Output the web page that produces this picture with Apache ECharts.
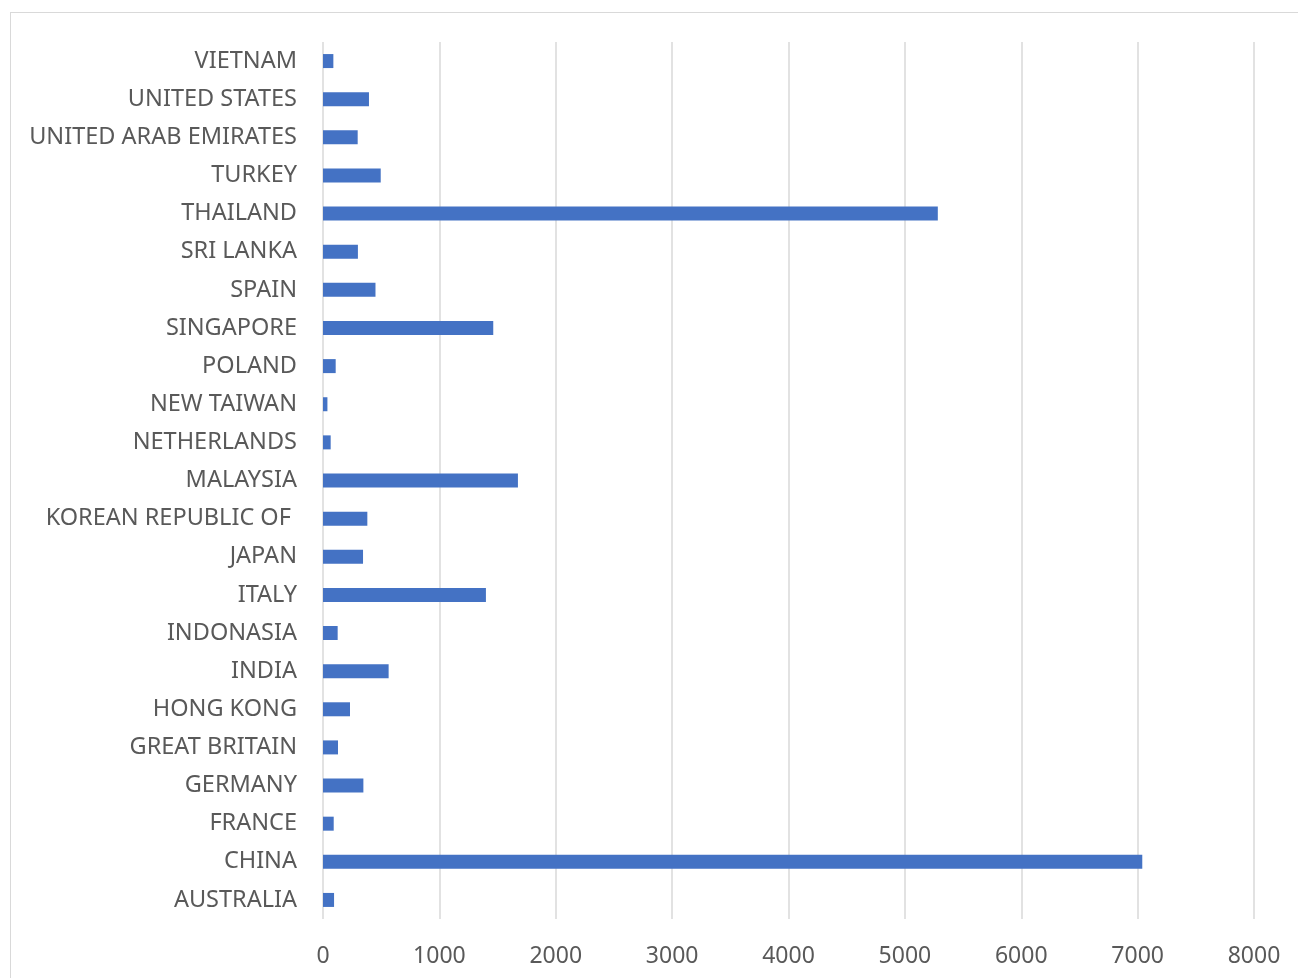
<!DOCTYPE html>
<html>
<head>
<meta charset="utf-8">
<script src="https://cdn.jsdelivr.net/npm/echarts@6/dist/echarts.min.js"></script>
<style>
  html, body { margin: 0; padding: 0; background: #fff; overflow: hidden; }
  .frame {
    position: absolute; left: 10px; top: 12px;
    width: 1400px; height: 1100px;
    border: 1px solid #d9d9d9; box-sizing: border-box;
  }
  #chart { position: absolute; left: 0; top: 0; width: 1298px; height: 978px; }
</style>
</head>
<body>
<div class="frame"></div>
<div id="chart"></div>
<script>
// bottom to top, as ECharts draws a y category axis
const countries = [
  "AUSTRALIA", "CHINA", "FRANCE", "GERMANY", "GREAT BRITAIN", "HONG KONG",
  "INDIA", "INDONASIA", "ITALY", "JAPAN", "KOREAN REPUBLIC OF ", "MALAYSIA",
  "NETHERLANDS", "NEW TAIWAN", "POLAND", "SINGAPORE", "SPAIN", "SRI LANKA",
  "THAILAND", "TURKEY", "UNITED ARAB EMIRATES", "UNITED STATES", "VIETNAM"
];
const counts = [
  95, 7040, 92, 347, 129, 232,
  564, 126, 1400, 344, 381, 1675,
  66, 38, 109, 1463, 451, 300,
  5283, 496, 298, 395, 89
];
const axisMin = 0;
const axisMax = 8000;
const axisStep = 1000;

const chart = echarts.init(document.getElementById("chart"));
const textColor = "#595959";
const font = "'Noto Sans', sans-serif";

chart.setOption({
  animation: false,
  grid: { left: 323, right: 44, top: 42, bottom: 59, containLabel: false },
  xAxis: {
    type: "value",
    min: axisMin,
    max: axisMax,
    interval: axisStep,
    axisLine: { show: false },
    axisTick: { show: false },
    splitLine: { show: true, lineStyle: { color: "#d9d9d9", width: 1.5 } },
    axisLabel: {
      color: textColor, fontSize: 23, fontFamily: font, margin: 26,
      formatter: (v) => String(v)
    }
  },
  yAxis: {
    type: "category",
    data: countries,
    axisLine: { show: false },
    axisTick: { show: false },
    axisLabel: { color: textColor, fontSize: 23.5, fontFamily: font, margin: 26 }
  },
  series: [
    {
      type: "bar",
      data: counts,
      barWidth: 14,
      itemStyle: { color: "#4472c4" }
    }
  ]
});
</script>
</body>
</html>
